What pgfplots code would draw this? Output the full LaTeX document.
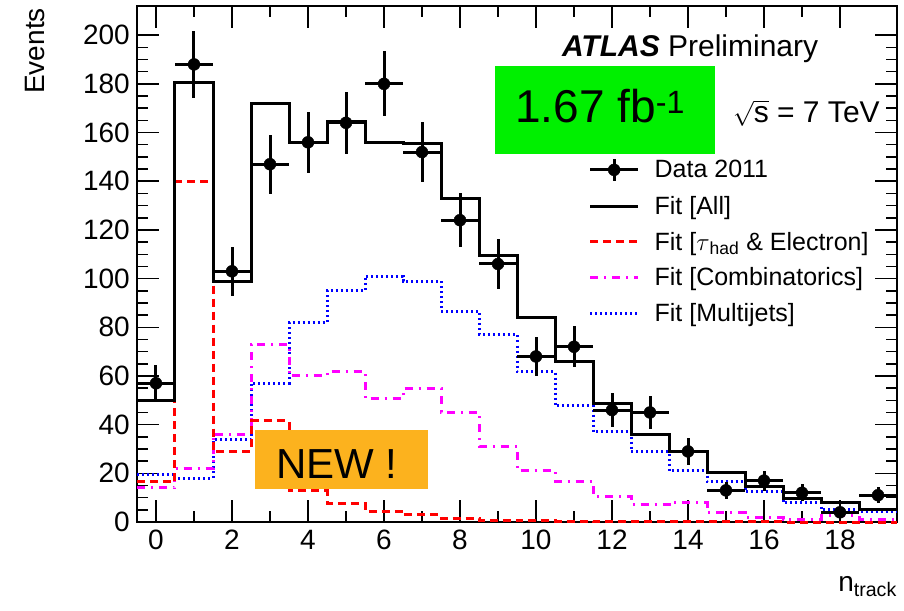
\documentclass[border=0pt]{standalone}
\usepackage{fontspec}
\setmainfont{Liberation Sans}
\usepackage{pgfplots}
\pgfplotsset{compat=1.18}
\usepackage{pgfplotstable}
\definecolor{boxgreen}{RGB}{0,240,0}
\definecolor{boxorange}{RGB}{252,178,30}
\definecolor{rootmagenta}{RGB}{255,0,255}
\definecolor{rootred}{RGB}{255,0,0}
\definecolor{rootblue}{RGB}{0,0,255}

% fitted templates, one row per bin (left edge), last row closes the last bin
\pgfplotstableread{
x     all    tau    comb   multi
-0.5  50     16.5   14     19.5
0.5   180.5  140    22     18
1.5   99     29     36     33.7
2.5   172    41.5   73     57
3.5   156    13     60     82
4.5   164.5  7.8    61.7   95
5.5   156    4.5    50.6   101
6.5   155.5  2.9    54.7   99
7.5   133    1.6    45     86.5
8.5   109.5  0.8    31     77
9.5   84     0.5    21     62
10.5  66     0.3    16.5   48
11.5  48.5   0.2    10.5   37
12.5  36     0.1    7      29
13.5  29     0.1    8      21
14.5  20.5   0.05   4      16.5
15.5  14.5   0.05   2      12.5
16.5  9.5    0      1      8
17.5  8      0      2.5    5.2
18.5  5.3    0      1      4.5
19.5  5.3    0      1      4.5
}\fits

% data 2011
\pgfplotstableread{
x   y    ex   ey
0   57   0.5  7.5
1   188  0.5  13.7
2   103  0.5  10.1
3   147  0.5  12.1
4   156  0.5  12.5
5   164  0.5  12.8
6   180  0.5  13.4
7   152  0.5  12.3
8   124  0.5  11.1
9   106  0.5  10.3
10  68   0.5  8.2
11  72   0.5  8.5
12  46   0.5  6.8
13  45   0.5  6.7
14  29   0.5  5.4
15  13   0.5  3.6
16  17   0.5  4.1
17  12   0.5  3.5
18  4    0.5  2.0
19  11   0.5  3.3
}\data

\begin{document}
\begin{tikzpicture}
\begin{axis}[
  name=ax,
  scale only axis, width=760pt, height=516pt,
  xmin=-0.5, xmax=19.5, ymin=0, ymax=212,
  xtick={0,2,...,18}, minor x tick num=1,
  ytick={0,20,...,200}, minor y tick num=3,
  tick align=inside,
  major tick length=22pt, minor tick length=11pt,
  tick style={line width=1.5pt, black},
  axis line style={line width=2pt},
  /pgf/number format/assume math mode=true,
  tick label style={font=\fontsize{28}{32}\selectfont},
  yticklabel style={inner sep=0pt, xshift=-7pt},
  xticklabel style={inner sep=0pt, yshift=-8pt},
  xlabel={n\textsubscript{track}},
  ylabel={Events},
  every axis x label/.style={at={(rel axis cs:1,0)}, anchor=north east,
    yshift=-54pt, inner sep=0pt, font=\fontsize{28}{32}\selectfont},
  every axis y label/.style={at={(rel axis cs:0,1)}, xshift=-92pt, yshift=-2pt,
    rotate=90, anchor=south east, inner sep=0pt, font=\fontsize{28}{32}\selectfont},
  legend image code/.code={\draw[#1] (0pt,0pt) -- (48pt,0pt);},
  legend style={at={(rel axis cs:0.594,0.707)}, anchor=north west,
    draw=none, fill=none, font=\fontsize{25}{28}\selectfont,
    row sep=12pt, inner sep=0pt,
    cells={anchor=west, inner sep=0pt},
    /tikz/every odd column/.style={column sep=13pt}},
  clip=false,
]
\addlegendimage{black, legend image code/.code={
  \draw[black, line width=3pt] (0pt,0pt) -- (48pt,0pt) (24pt,-11pt) -- (24pt,11pt);
  \fill[black] (24pt,0pt) circle (6pt);}}
\addlegendentry{Data 2011}
\addlegendimage{black, line width=3pt}
\addlegendentry{Fit [All]}
\addlegendimage{rootred, line width=3pt, dash pattern=on 8pt off 5pt}
\addlegendentry{Fit [\(\tau\)\textsubscript{had} \& Electron]}
\addlegendimage{rootmagenta, line width=3pt, dash pattern=on 8pt off 6pt on 2pt off 6pt}
\addlegendentry{Fit [Combinatorics]}
\addlegendimage{rootblue, line width=3pt, dash pattern=on 2pt off 3pt}
\addlegendentry{Fit [Multijets]}

\addplot[forget plot, const plot mark left, mark=none, rootblue, line width=3pt,
  dash pattern=on 2pt off 3pt] table[x=x, y=multi] {\fits};
\addplot[forget plot, const plot mark left, mark=none, rootmagenta, line width=3pt,
  dash pattern=on 8pt off 6pt on 2pt off 6pt] table[x=x, y=comb] {\fits};
\addplot[forget plot, const plot mark left, mark=none, rootred, line width=3pt,
  dash pattern=on 8pt off 5pt] table[x=x, y=tau] {\fits};
\addplot[forget plot, const plot mark left, mark=none, black, line width=3pt]
  table[x=x, y=all] {\fits};
\addplot[forget plot, only marks, mark=*, mark size=6pt, black,
  error bars/.cd, x dir=both, x explicit, y dir=both, y explicit,
  error mark=none, error bar style={line width=3pt, black}]
  table[x=x, y=y, x error=ex, y error=ey] {\data};

% labels and boxes
\node[anchor=base west, font=\fontsize{30}{34}\selectfont, inner sep=0pt]
  at (axis cs:10.68,191.4) {\textbf{\textit{ATLAS}} Preliminary};
\fill[boxgreen] (axis cs:8.92,151) rectangle (axis cs:14.71,187.2);
\node[anchor=base west, font=\fontsize{46}{50}\selectfont, inner sep=0pt]
  at (axis cs:9.45,164.2) {1.67 fb\textsuperscript{-1}};
\node[anchor=base west, font=\fontsize{30}{34}\selectfont, inner sep=0pt]
  at (axis cs:15.18,164.2) {\(\sqrt{\mbox{s}}\) = 7 TeV};
\fill[boxorange] (axis cs:2.61,13.6) rectangle (axis cs:7.16,37.9);
\node[anchor=base west, font=\fontsize{42}{46}\selectfont, inner sep=0pt]
  at (axis cs:3.16,17.7) {NEW !};
\end{axis}
\path (ax.south west) ++(-137pt,-88pt);
\path (ax.north east) ++(7pt,6pt);
\end{tikzpicture}
\end{document}
